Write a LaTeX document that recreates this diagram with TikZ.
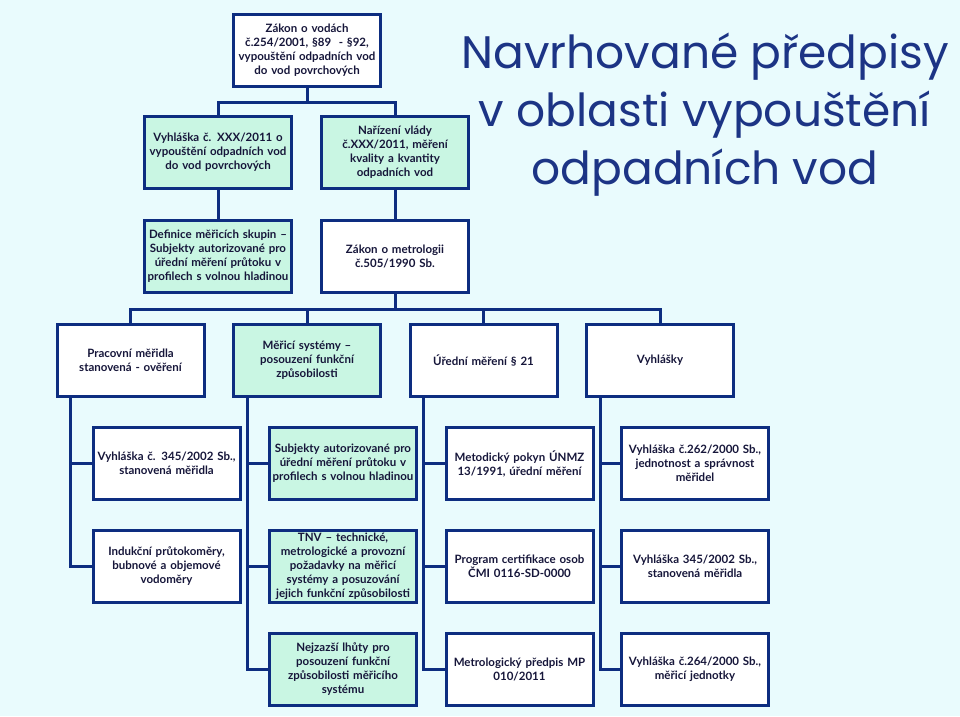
\documentclass[tikz,border=0pt]{standalone}
\usepackage{fontspec}
\setmainfont{Lato}
\newfontfamily\titlefont{Poppins}
\usepackage{tikz}
\usetikzlibrary{positioning, calc}
\definecolor{bgc}{HTML}{E9FBFD}
\definecolor{zelena}{HTML}{C9F6E3}
\definecolor{linka}{HTML}{0D2D80}
\definecolor{pismo}{HTML}{16163A}
\definecolor{nadpis}{HTML}{1C3485}

\begin{document}
\begin{tikzpicture}[
    x=1pt, y=-1pt,
    line width=3pt,
    predpis/.style={rectangle, draw=linka, fill=white, line width=3pt,
        minimum width=146pt, minimum height=72pt, text width=145pt,
        align=center, inner sep=1pt, text=pismo,
        font=\fontsize{11.5}{14}\selectfont\bfseries},
    navrh/.style={predpis, fill=zelena},
    spoj/.style={draw=linka, line width=3pt}
]
    \fill[bgc] (0,0) rectangle (960,716);
    \useasboundingbox (0,0) rectangle (960,716);

    % Nadpis
    \node[text=nadpis, align=center, font=\titlefont\fontsize{45.5}{58}\selectfont] (nadpis) at (705,115)
        {Navrhované předpisy\\v oblasti vypouštění\\odpadních vod};

    % Zákony a nařízení
    \node[predpis] (zvod) at (307,50) {Zákon o vodách\\č.254/2001, §89 \ - §92,\\vypouštění odpadních vod\\do vod povrchových};
    \node[navrh] (vyhxxx) at (218,152.5) {Vyhláška č. XXX/2011 o\\vypouštění odpadních vod\\do vod povrchových};
    \node[navrh] (nv) at (395,152.5) {Nařízení vlády\\č.XXX/2011, měření\\kvality a kvantity\\odpadních vod};
    \node[navrh] (defin) at (218,256) {Definice měřicích skupin --\\Subjekty autorizované pro\\úřední měření průtoku v\\profilech s volnou hladinou};
    \node[predpis] (zmetr) at (395,256) {Zákon o metrologii\\č.505/1990 Sb.};

    % Oblasti
    \node[predpis] (prac) at (130.5,360) {Pracovní měřidla\\stanovená - ověření};
    \node[navrh] (mers) at (307,360) {Měřicí systémy --\\posouzení funkční\\způsobilosti};
    \node[predpis] (ured) at (483.5,360) {Úřední měření § 21};
    \node[predpis] (vyhl) at (660,360) {Vyhlášky};

    % Pracovní měřidla
    \node[predpis] (v345a) at (166.5,463.5) {Vyhláška č. 345/2002 Sb.,\\stanovená měřidla};
    \node[predpis] (indu) at (166.5,566.5) {Indukční průtokoměry,\\bubnové a objemové\\vodoměry};

    % Měřicí systémy
    \node[navrh] (subj) at (343,463.5) {Subjekty autorizované pro\\úřední měření průtoku v\\profilech s volnou hladinou};
    \node[navrh] (tnv) at (343,566.5) {TNV -- technické,\\metrologické a provozní\\požadavky na měřicí\\systémy a posuzování\\jejich funkční způsobilosti};
    \node[navrh] (lhuty) at (343,669.5) {Nejzazší lhůty pro\\posouzení funkční\\způsobilosti měřicího\\systému};

    % Úřední měření
    \node[predpis] (metp) at (519.5,463.5) {Metodický pokyn ÚNMZ\\13/1991, úřední měření};
    \node[predpis] (cert) at (519.5,566.5) {Program certifikace osob\\ČMI 0116-SD-0000};
    \node[predpis] (mp) at (519.5,669.5) {Metrologický předpis MP\\010/2011};

    % Vyhlášky
    \node[predpis] (v262) at (695,463.5) {Vyhláška č.262/2000 Sb.,\\jednotnost a správnost\\měřidel};
    \node[predpis] (v345b) at (695,566.5) {Vyhláška 345/2002 Sb.,\\stanovená měřidla};
    \node[predpis] (v264) at (695,669.5) {Vyhláška č.264/2000 Sb.,\\měřicí jednotky};

    % Spojnice
    \coordinate (j1) at (307,102);
    \coordinate (j2) at (395,309);
    \draw[spoj] (zvod.south) -- (j1) -| (vyhxxx.north);
    \draw[spoj] (j1) -| (nv.north);
    \draw[spoj] (vyhxxx.south) -- (defin.north);
    \draw[spoj] (nv.south) -- (zmetr.north);
    \draw[spoj] (zmetr.south) -- (j2) -| (prac.north);
    \draw[spoj] (j2) -| (vyhl.north);
    \draw[spoj] (j2 -| mers.north) -- (mers.north);
    \draw[spoj] (j2 -| ured.north) -- (ured.north);

    \draw[spoj] ([xshift=15pt]prac.south west) |- (v345a.west);
    \draw[spoj] ([xshift=15pt]prac.south west) |- (indu.west);
    \draw[spoj] ([xshift=15pt]mers.south west) |- (subj.west);
    \draw[spoj] ([xshift=15pt]mers.south west) |- (tnv.west);
    \draw[spoj] ([xshift=15pt]mers.south west) |- (lhuty.west);
    \draw[spoj] ([xshift=15pt]ured.south west) |- (metp.west);
    \draw[spoj] ([xshift=15pt]ured.south west) |- (cert.west);
    \draw[spoj] ([xshift=15pt]ured.south west) |- (mp.west);
    \draw[spoj] ([xshift=15pt]vyhl.south west) |- (v262.west);
    \draw[spoj] ([xshift=15pt]vyhl.south west) |- (v345b.west);
    \draw[spoj] ([xshift=15pt]vyhl.south west) |- (v264.west);
\end{tikzpicture}
\end{document}
